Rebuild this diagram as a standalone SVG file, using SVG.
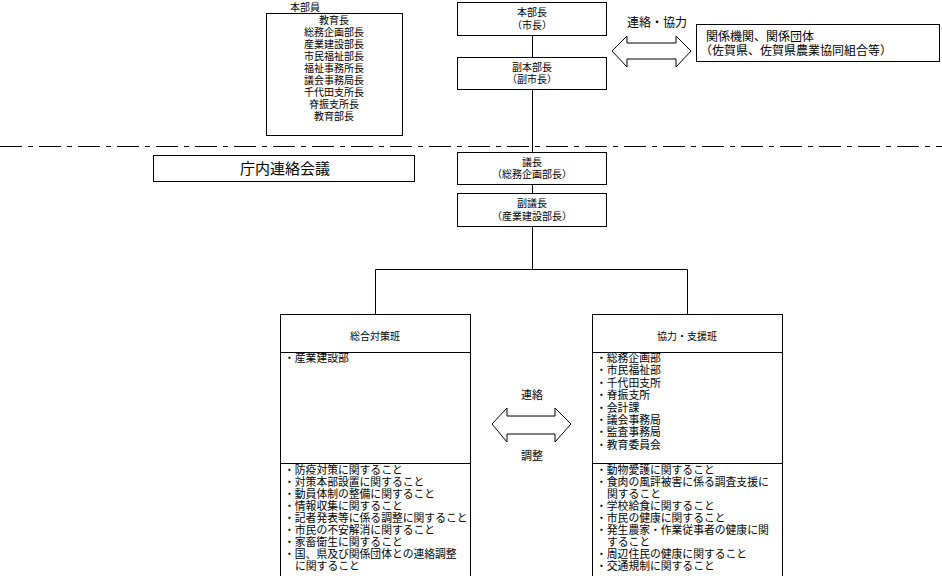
<svg xmlns="http://www.w3.org/2000/svg" width="942" height="576" viewBox="0 0 942 576">
<style>
text{font-family:"Noto Sans CJK JP","Noto Sans CJK SC",sans-serif;fill:#000}
.b{fill:#fff;stroke:#000;stroke-width:1}
.l{stroke:#000;stroke-width:1;fill:none}
.s{font-size:10px}
.m{font-size:10.8px}
.c{text-anchor:middle}
</style>
<rect width="942" height="576" fill="#fff"/>
<g id="connectors">
<line class="l" x1="532.5" y1="35" x2="532.5" y2="57"/>
<line class="l" x1="532.5" y1="89" x2="532.5" y2="152"/>
<line class="l" x1="532.5" y1="184" x2="532.5" y2="193"/>
<line class="l" x1="532.5" y1="226" x2="532.5" y2="270"/>
<polyline class="l" points="375.5,315 375.5,269.5 687.5,269.5 687.5,315"/>
<line x1="0" y1="146.5" x2="942" y2="146.5" stroke="#000" stroke-width="1" stroke-dasharray="22 6 5 6"/>
<polygon class="b" points="612,51 627,36 627,43 676,43 676,36 691,51 676,67 676,59 627,59 627,67"/>
<polygon class="b" points="492,424 507,408 507,416 555,416 555,408 571,424 555,442 555,434 507,434 507,442"/>
<text x="657" y="27" class="c" font-size="12">連絡・協力</text>
<text x="532" y="399" class="c" font-size="11">連絡</text>
<text x="532" y="460" class="c" font-size="11">調整</text>
</g>
<g id="honbuin">
<text x="290" y="11" font-size="10">本部員</text>
<rect class="b" x="266.5" y="13.5" width="136" height="122"/>
<g class="s c">
<text x="334" y="24">教育長</text>
<text x="334" y="36">総務企画部長</text>
<text x="334" y="48">産業建設部長</text>
<text x="334" y="60">市民福祉部長</text>
<text x="334" y="72">福祉事務所長</text>
<text x="334" y="84">議会事務局長</text>
<text x="334" y="96">千代田支所長</text>
<text x="334" y="108">脊振支所長</text>
<text x="334" y="120">教育部長</text>
</g>
</g>
<g id="honbucho">
<rect class="b" x="457.5" y="2.5" width="149" height="33"/>
<text x="532" y="16" class="s c">本部長</text>
<text x="532" y="29" class="s c">（市長）</text>
</g>
<g id="fukuhonbucho">
<rect class="b" x="457.5" y="57.5" width="149" height="32"/>
<text x="532" y="71" class="s c">副本部長</text>
<text x="532" y="83" class="s c">（副市長）</text>
</g>
<g id="kankei">
<rect class="b" x="696.5" y="24.5" width="243" height="37"/>
<text x="706" y="41" font-size="12">関係機関、関係団体</text>
<text x="700" y="55" font-size="12">（佐賀県、佐賀県農業協同組合等）</text>
</g>
<g id="chonai">
<rect class="b" x="153.5" y="155.5" width="261" height="26"/>
<text x="285" y="174" class="c" font-size="15">庁内連絡会議</text>
</g>
<g id="gicho">
<rect class="b" x="457.5" y="152.5" width="149" height="32"/>
<text x="532" y="166" class="s c">議長</text>
<text x="532" y="178" class="s c">（総務企画部長）</text>
</g>
<g id="fukugicho">
<rect class="b" x="457.5" y="193.5" width="149" height="33"/>
<text x="532" y="207" class="s c">副議長</text>
<text x="532" y="220" class="s c">（産業建設部長）</text>
</g>
<g id="sogo">
<rect class="b" x="280.5" y="314.5" width="190" height="265"/>
<line class="l" x1="280" y1="352.5" x2="470" y2="352.5"/>
<line class="l" x1="280" y1="463.5" x2="470" y2="463.5"/>
<text x="375" y="340" class="s c">総合対策班</text>
<g class="m">
<text x="284" y="362">・産業建設部</text>
<text x="284" y="474">・防疫対策に関すること</text>
<text x="284" y="486">・対策本部設置に関すること</text>
<text x="284" y="498">・動員体制の整備に関すること</text>
<text x="284" y="510">・情報収集に関すること</text>
<text x="284" y="522">・記者発表等に係る調整に関すること</text>
<text x="284" y="534">・市民の不安解消に関すること</text>
<text x="284" y="546">・家畜衛生に関すること</text>
<text x="284" y="558">・国、県及び関係団体との連絡調整</text>
<text x="295" y="570">に関すること</text>
</g>
</g>
<g id="kyoryoku">
<rect class="b" x="592.5" y="314.5" width="190" height="265"/>
<line class="l" x1="592" y1="352.5" x2="782" y2="352.5"/>
<line class="l" x1="592" y1="463.5" x2="782" y2="463.5"/>
<text x="687" y="340" class="s c">協力・支援班</text>
<g class="m">
<text x="596" y="362">・総務企画部</text>
<text x="596" y="374">・市民福祉部</text>
<text x="596" y="387">・千代田支所</text>
<text x="596" y="399">・脊振支所</text>
<text x="596" y="412">・会計課</text>
<text x="596" y="424">・議会事務局</text>
<text x="596" y="436">・監査事務局</text>
<text x="596" y="449">・教育委員会</text>
<text x="596" y="474">・動物愛護に関すること</text>
<text x="596" y="486">・食肉の風評被害に係る調査支援に</text>
<text x="607" y="498">関すること</text>
<text x="596" y="510">・学校給食に関すること</text>
<text x="596" y="522">・市民の健康に関すること</text>
<text x="596" y="534">・発生農家・作業従事者の健康に関</text>
<text x="607" y="546">すること</text>
<text x="596" y="558">・周辺住民の健康に関すること</text>
<text x="596" y="570">・交通規制に関すること</text>
</g>
</g>
</svg>
